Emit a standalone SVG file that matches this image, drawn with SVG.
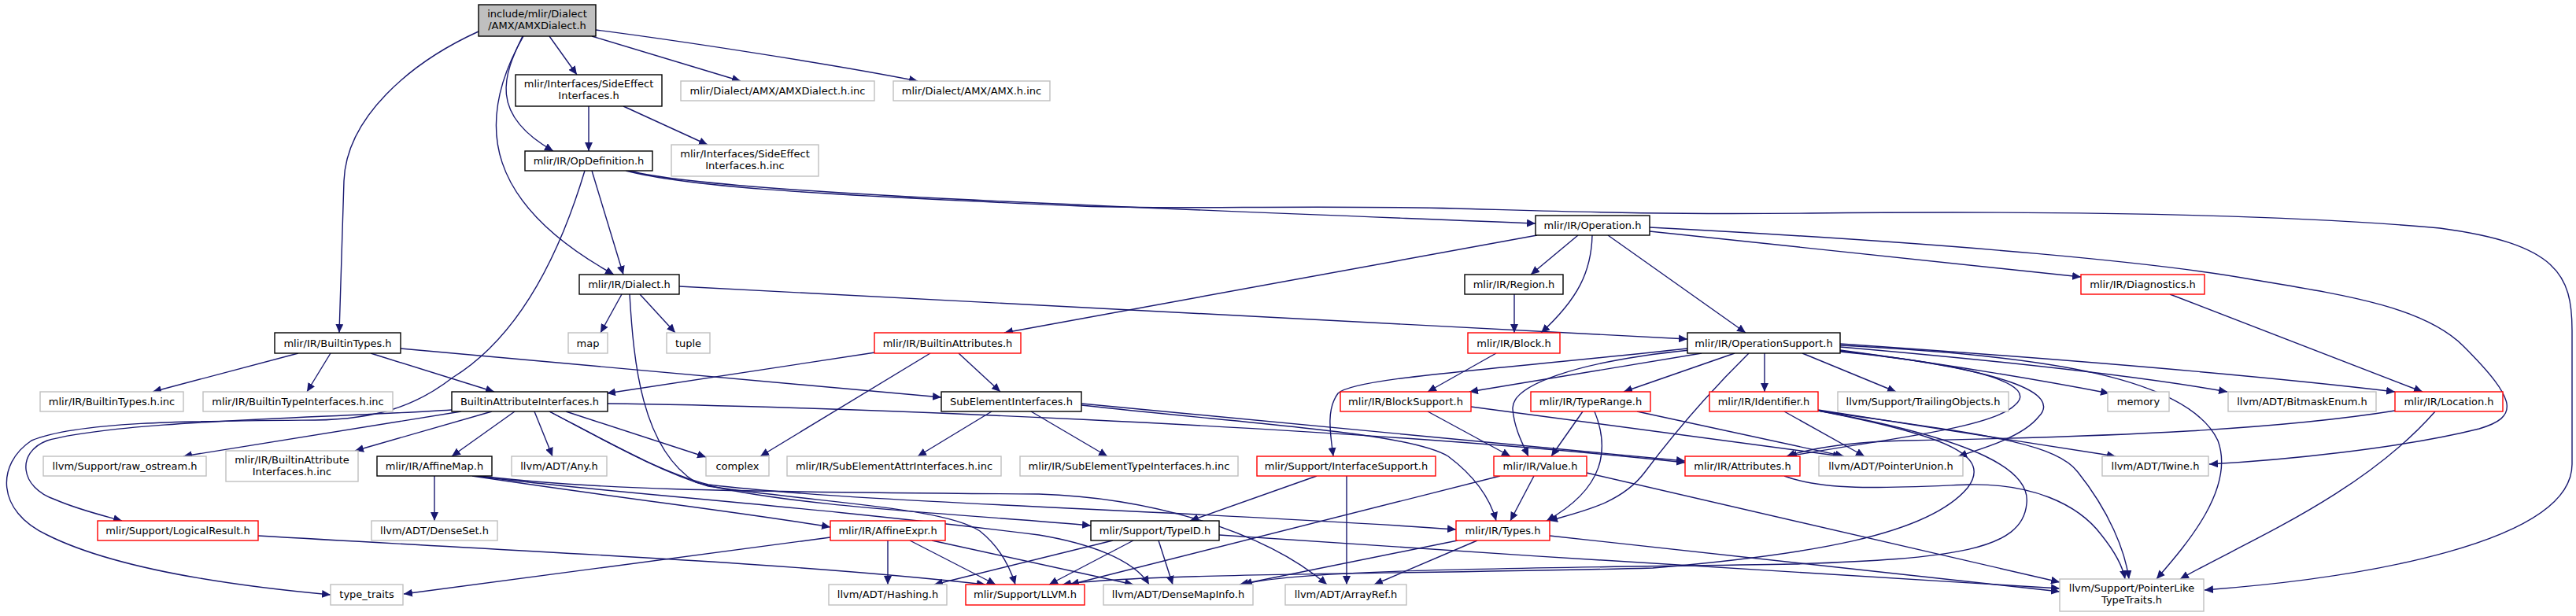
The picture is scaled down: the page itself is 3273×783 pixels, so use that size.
<svg xmlns="http://www.w3.org/2000/svg" width="3273" height="783" viewBox="0 0 3273 783">
<style>
.n rect{fill:#fff;stroke-width:1.4}
.b rect{stroke:#000}
.g rect{stroke:#bfbfbf}
.r rect{stroke:#ff0000}
.n text{font-family:"DejaVu Sans","Liberation Sans",sans-serif;font-size:13px;text-anchor:middle;fill:#000}
#edges path{fill:none;stroke:#191970;stroke-width:1.4;marker-end:url(#a)}
</style>
<defs>
<marker id="a" markerUnits="userSpaceOnUse" markerWidth="12" markerHeight="10" refX="11" refY="5" orient="auto"><path d="M0,0 L11,5 L0,10 z" fill="#191970"/></marker>
</defs>
<rect width="3273" height="783" fill="#fff"/>
<g id="edges">
<path d="M608,40 C520,80 440,150 437,230 L431,423"/>
<path d="M664,46 C640,95 620,145 703,192"/>
<path d="M665,46 C600,160 620,260 780,349"/>
<path d="M698,46 L733,95"/>
<path d="M752,46 L941,103"/>
<path d="M757,38 C850,50 1050,80 1166,103"/>
<path d="M748,135 L748,192"/>
<path d="M792,135 L899,184"/>
<path d="M752,217 L792,349"/>
<path d="M743,217 C700,360 640,440 575,480 C530,515 480,533 400,534 C250,535 100,535 40,560 C-5,590 -5,650 60,680 C150,725 300,745 420,756"/>
<path d="M800,217 C900,245 1400,262 1951,284"/>
<path d="M795,217 C870,236 1000,246 1375,262 C1500,267 1650,260 1850,265 C2000,269 2100,273 2300,271 C2600,268 2900,272 3100,290 C3250,310 3268,350 3268,420 L3268,590 C3268,690 3000,735 2801,750"/>
<path d="M790,374 L763,423"/>
<path d="M813,374 L858,423"/>
<path d="M863,364 L2144,431"/>
<path d="M800,374 C805,460 815,570 884,613 C1000,645 1250,655 1386,668"/>
<path d="M2005,299 L1945,349"/>
<path d="M2023,299 C2022,345 2005,380 1958,423"/>
<path d="M2043,299 L2218,423"/>
<path d="M1953,299 L1276,423"/>
<path d="M2096,294 L2644,352"/>
<path d="M2096,289 C2500,310 2750,335 2860,355 C2980,375 3080,390 3130,440 C3200,510 3200,530 3150,545 C3050,570 2900,585 2807,590"/>
<path d="M1924,374 L1924,423"/>
<path d="M2757,374 L3078,498"/>
<path d="M379,449 L194,498"/>
<path d="M420,449 L390,498"/>
<path d="M471,449 L628,498"/>
<path d="M509,443 L1196,505"/>
<path d="M1112,448 L771,500"/>
<path d="M1218,449 L1271,498"/>
<path d="M1182,449 L966,580"/>
<path d="M1901,449 L1814,498"/>
<path d="M2162,449 L1867,498"/>
<path d="M2144,443 C1900,470 1720,480 1700,500 C1685,520 1690,550 1694,580"/>
<path d="M2147,445 C2000,460 1920,490 1922,520 C1924,545 1935,565 1942,580"/>
<path d="M2204,449 L2063,498"/>
<path d="M2222,449 C2160,510 2120,560 2090,600 C2060,640 2010,650 1968,662"/>
<path d="M2242,449 L2242,498"/>
<path d="M2290,449 L2409,498"/>
<path d="M2338,445 C2450,460 2550,475 2680,500"/>
<path d="M2338,441 C2500,455 2700,475 2830,498"/>
<path d="M2338,437 C2600,455 2850,475 3043,498"/>
<path d="M2338,439 C2600,452 2780,480 2818,560 C2840,620 2780,690 2740,736"/>
<path d="M2338,446 C2550,470 2620,500 2590,530 C2570,555 2520,570 2488,580"/>
<path d="M2338,447 C2520,465 2590,490 2560,515 C2530,545 2380,560 2272,580"/>
<path d="M2011,523 L1971,580"/>
<path d="M2026,523 C2045,570 2040,620 1965,662"/>
<path d="M2080,523 L2343,580"/>
<path d="M1814,523 L1919,580"/>
<path d="M1869,517 L2340,580"/>
<path d="M2267,523 L2369,580"/>
<path d="M2310,521 L2688,580"/>
<path d="M2310,522 C2500,550 2610,560 2640,600 C2680,650 2700,700 2705,736"/>
<path d="M2310,522 C2480,555 2530,580 2500,620 C2450,680 2300,705 2100,722 C1800,730 1450,728 1350,743"/>
<path d="M2310,522 C2520,560 2580,600 2575,640 C2570,700 2480,710 2280,717 C2000,722 1650,722 1580,743"/>
<path d="M1949,605 L1919,662"/>
<path d="M1906,605 L1360,743"/>
<path d="M2016,601 L2617,740"/>
<path d="M2267,605 C2320,625 2400,620 2500,616 C2580,614 2640,640 2670,680 C2690,705 2698,725 2700,736"/>
<path d="M3043,522 C2900,545 2700,555 2420,560 C2350,562 2300,570 2270,580"/>
<path d="M3094,523 C3000,630 2850,690 2770,736"/>
<path d="M1260,523 L1166,580"/>
<path d="M1310,523 L1407,580"/>
<path d="M1374,513 L2141,586"/>
<path d="M1374,515 C1600,540 1790,550 1840,580 C1880,610 1895,640 1901,662"/>
<path d="M772,513 C1000,515 1700,540 2141,588"/>
<path d="M586,523 L233,580"/>
<path d="M625,523 L451,573"/>
<path d="M654,523 L574,580"/>
<path d="M679,523 L702,580"/>
<path d="M719,523 L897,581"/>
<path d="M574,521 C400,532 150,535 60,560 C20,575 25,620 70,635 C100,648 130,655 155,662"/>
<path d="M698,523 C780,566 840,600 900,616 C1100,640 1500,648 1850,673"/>
<path d="M698,523 C780,566 840,600 900,618 C1050,640 1200,645 1245,675 C1270,695 1283,720 1290,743"/>
<path d="M552,605 L552,662"/>
<path d="M600,605 C800,635 950,652 1055,670"/>
<path d="M610,605 C750,622 900,625 1320,628 C1450,632 1600,670 1686,743"/>
<path d="M605,605 C750,625 1000,640 1320,680 C1380,690 1440,710 1460,743"/>
<path d="M1055,683 L513,755"/>
<path d="M1128,687 L1128,743"/>
<path d="M1156,687 L1265,743"/>
<path d="M1184,687 L1440,743"/>
<path d="M328,681 C700,703 1000,715 1252,743"/>
<path d="M1673,605 L1512,662"/>
<path d="M1711,605 L1711,743"/>
<path d="M1414,687 L1187,743"/>
<path d="M1440,687 L1333,743"/>
<path d="M1472,687 L1490,743"/>
<path d="M1549,680 C1900,705 2300,728 2617,748"/>
<path d="M1852,687 L1575,743"/>
<path d="M1877,687 L1746,743"/>
<path d="M1969,681 L2617,752"/>
</g>
<g id="n_root" class="n b"><rect x="608" y="6" width="149" height="40" style="fill:#bfbfbf"/><text x="682.5" y="22">include/mlir/Dialect</text><text x="682.5" y="37">/AMX/AMXDialect.h</text></g>
<g id="n_sideeffect" class="n b"><rect x="655" y="95" width="186" height="40"/><text x="748" y="111">mlir/Interfaces/SideEffect</text><text x="748" y="126">Interfaces.h</text></g>
<g id="n_amxdialect_inc" class="n g"><rect x="865" y="103" width="246" height="25"/><text x="988" y="120">mlir/Dialect/AMX/AMXDialect.h.inc</text></g>
<g id="n_amx_inc" class="n g"><rect x="1135" y="103" width="199" height="25"/><text x="1234.5" y="120">mlir/Dialect/AMX/AMX.h.inc</text></g>
<g id="n_opdef" class="n b"><rect x="667" y="192" width="162" height="25"/><text x="748" y="209">mlir/IR/OpDefinition.h</text></g>
<g id="n_sideeffect_inc" class="n g"><rect x="853" y="184" width="187" height="40"/><text x="946.5" y="200">mlir/Interfaces/SideEffect</text><text x="946.5" y="215">Interfaces.h.inc</text></g>
<g id="n_operation" class="n b"><rect x="1951" y="274" width="145" height="25"/><text x="2023.5" y="291">mlir/IR/Operation.h</text></g>
<g id="n_dialect" class="n b"><rect x="736" y="349" width="127" height="25"/><text x="799.5" y="366">mlir/IR/Dialect.h</text></g>
<g id="n_region" class="n b"><rect x="1861" y="349" width="125" height="25"/><text x="1923.5" y="366">mlir/IR/Region.h</text></g>
<g id="n_diagnostics" class="n r"><rect x="2644" y="349" width="157" height="25"/><text x="2722.5" y="366">mlir/IR/Diagnostics.h</text></g>
<g id="n_builtintypes" class="n b"><rect x="349" y="423" width="160" height="26"/><text x="429" y="440.5">mlir/IR/BuiltinTypes.h</text></g>
<g id="n_map" class="n g"><rect x="722" y="423" width="50" height="26"/><text x="747" y="440.5">map</text></g>
<g id="n_tuple" class="n g"><rect x="847" y="423" width="55" height="26"/><text x="874.5" y="440.5">tuple</text></g>
<g id="n_builtinattrs" class="n r"><rect x="1111" y="423" width="186" height="26"/><text x="1204" y="440.5">mlir/IR/BuiltinAttributes.h</text></g>
<g id="n_block" class="n r"><rect x="1865" y="423" width="117" height="26"/><text x="1923.5" y="440.5">mlir/IR/Block.h</text></g>
<g id="n_opsupport" class="n b"><rect x="2144" y="423" width="194" height="26"/><text x="2241" y="440.5">mlir/IR/OperationSupport.h</text></g>
<g id="n_bt_inc" class="n g"><rect x="51" y="498" width="182" height="25"/><text x="142" y="515">mlir/IR/BuiltinTypes.h.inc</text></g>
<g id="n_bti_inc" class="n g"><rect x="258" y="498" width="241" height="25"/><text x="378.5" y="515">mlir/IR/BuiltinTypeInterfaces.h.inc</text></g>
<g id="n_bai" class="n b"><rect x="574" y="498" width="198" height="25"/><text x="673" y="515">BuiltinAttributeInterfaces.h</text></g>
<g id="n_sei" class="n b"><rect x="1196" y="498" width="178" height="25"/><text x="1285" y="515">SubElementInterfaces.h</text></g>
<g id="n_blocksupport" class="n r"><rect x="1703" y="498" width="166" height="25"/><text x="1786" y="515">mlir/IR/BlockSupport.h</text></g>
<g id="n_typerange" class="n r"><rect x="1945" y="498" width="152" height="25"/><text x="2021" y="515">mlir/IR/TypeRange.h</text></g>
<g id="n_identifier" class="n r"><rect x="2172" y="498" width="138" height="25"/><text x="2241" y="515">mlir/IR/Identifier.h</text></g>
<g id="n_trailing" class="n g"><rect x="2335" y="498" width="217" height="25"/><text x="2443.5" y="515">llvm/Support/TrailingObjects.h</text></g>
<g id="n_memory" class="n g"><rect x="2678" y="498" width="78" height="25"/><text x="2717" y="515">memory</text></g>
<g id="n_bitmask" class="n g"><rect x="2831" y="498" width="188" height="25"/><text x="2925" y="515">llvm/ADT/BitmaskEnum.h</text></g>
<g id="n_location" class="n r"><rect x="3043" y="498" width="137" height="25"/><text x="3111.5" y="515">mlir/IR/Location.h</text></g>
<g id="n_raw_ostream" class="n g"><rect x="55" y="580" width="207" height="25"/><text x="158.5" y="597">llvm/Support/raw_ostream.h</text></g>
<g id="n_bai_inc" class="n g"><rect x="287" y="573" width="168" height="39"/><text x="371" y="589">mlir/IR/BuiltinAttribute</text><text x="371" y="604">Interfaces.h.inc</text></g>
<g id="n_affinemap" class="n b"><rect x="479" y="580" width="146" height="25"/><text x="552" y="597">mlir/IR/AffineMap.h</text></g>
<g id="n_any" class="n g"><rect x="650" y="580" width="121" height="25"/><text x="710.5" y="597">llvm/ADT/Any.h</text></g>
<g id="n_complex" class="n g"><rect x="897" y="580" width="80" height="25"/><text x="937" y="597">complex</text></g>
<g id="n_seattr_inc" class="n g"><rect x="1000" y="580" width="272" height="25"/><text x="1136" y="597">mlir/IR/SubElementAttrInterfaces.h.inc</text></g>
<g id="n_setype_inc" class="n g"><rect x="1296" y="580" width="277" height="25"/><text x="1434.5" y="597">mlir/IR/SubElementTypeInterfaces.h.inc</text></g>
<g id="n_interfacesupport" class="n r"><rect x="1597" y="580" width="227" height="25"/><text x="1710.5" y="597">mlir/Support/InterfaceSupport.h</text></g>
<g id="n_value" class="n r"><rect x="1898" y="580" width="118" height="25"/><text x="1957" y="597">mlir/IR/Value.h</text></g>
<g id="n_attributes" class="n r"><rect x="2141" y="580" width="146" height="25"/><text x="2214" y="597">mlir/IR/Attributes.h</text></g>
<g id="n_pointerunion" class="n g"><rect x="2311" y="580" width="183" height="25"/><text x="2402.5" y="597">llvm/ADT/PointerUnion.h</text></g>
<g id="n_twine" class="n g"><rect x="2671" y="580" width="135" height="25"/><text x="2738.5" y="597">llvm/ADT/Twine.h</text></g>
<g id="n_logicalresult" class="n r"><rect x="124" y="662" width="204" height="25"/><text x="226" y="679">mlir/Support/LogicalResult.h</text></g>
<g id="n_denseset" class="n g"><rect x="472" y="662" width="160" height="25"/><text x="552" y="679">llvm/ADT/DenseSet.h</text></g>
<g id="n_affineexpr" class="n r"><rect x="1055" y="662" width="146" height="25"/><text x="1128" y="679">mlir/IR/AffineExpr.h</text></g>
<g id="n_typeid" class="n b"><rect x="1386" y="662" width="163" height="25"/><text x="1467.5" y="679">mlir/Support/TypeID.h</text></g>
<g id="n_types" class="n r"><rect x="1850" y="662" width="119" height="25"/><text x="1909.5" y="679">mlir/IR/Types.h</text></g>
<g id="n_type_traits" class="n g"><rect x="420" y="743" width="92" height="26"/><text x="466" y="760">type_traits</text></g>
<g id="n_hashing" class="n g"><rect x="1053" y="743" width="150" height="26"/><text x="1128" y="760">llvm/ADT/Hashing.h</text></g>
<g id="n_llvm" class="n r"><rect x="1227" y="743" width="151" height="26"/><text x="1302.5" y="760">mlir/Support/LLVM.h</text></g>
<g id="n_densemapinfo" class="n g"><rect x="1402" y="743" width="190" height="26"/><text x="1497" y="760">llvm/ADT/DenseMapInfo.h</text></g>
<g id="n_arrayref" class="n g"><rect x="1633" y="743" width="154" height="26"/><text x="1710" y="760">llvm/ADT/ArrayRef.h</text></g>
<g id="n_pointerlike" class="n g"><rect x="2617" y="736" width="183" height="41"/><text x="2708.5" y="752">llvm/Support/PointerLike</text><text x="2708.5" y="767">TypeTraits.h</text></g>
</svg>
